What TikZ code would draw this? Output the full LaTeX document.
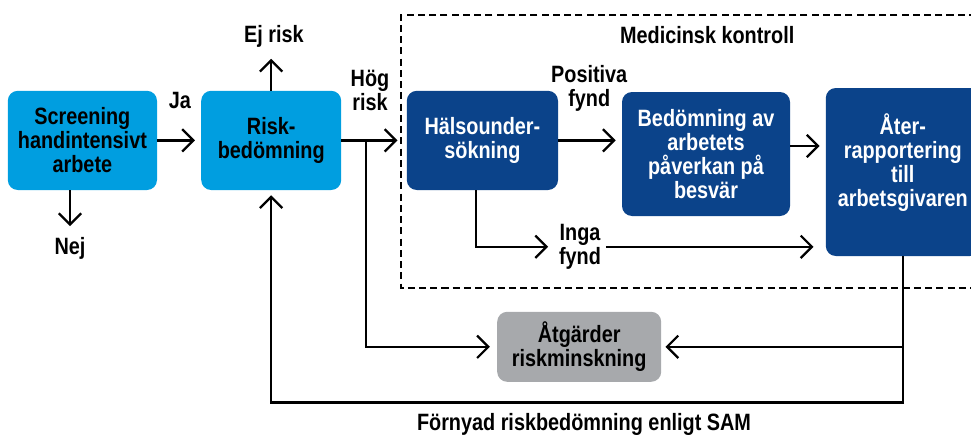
\documentclass[tikz,border=0pt]{standalone}
\usepackage{fontspec}
\setmainfont{Liberation Sans}[FakeStretch=0.84]
\usetikzlibrary{arrows.meta}
\definecolor{lightblue}{RGB}{0,158,224}
\definecolor{darkblue}{RGB}{11,67,138}
\definecolor{boxgray}{RGB}{167,169,172}
\tikzset{
  txt/.style={font=\bfseries\fontsize{16.8}{17}\selectfont, align=center},
  box/.style={txt, rounded corners=0.25cm, inner sep=2pt},
  lightbox/.style={box, fill=lightblue},
  darkbox/.style={box, fill=darkblue, text=white},
  graybox/.style={box, fill=boxgray},
  ln/.style={line width=1.6pt},
  arr/.style={ln, -{Straight Barb[length=2.8mm,width=5.6mm]}, shorten >=0.15cm},
}
\begin{document}
\begin{tikzpicture}
\useasboundingbox (0,0) rectangle (24.275,10.9);

\draw[ln, dash pattern=on 5pt off 3pt] (24.4,10.525) -- (10.025,10.525) -- (10.025,3.7) -- (24.4,3.7);

\node[lightbox, minimum width=3.73cm, minimum height=2.48cm] (screen) at (2.06,7.39) {Screening\\handintensivt\\arbete};
\node[lightbox, minimum width=3.5cm, minimum height=2.48cm] (risk) at (6.78,7.39) {Risk-\\bedömning};
\node[darkbox, minimum width=3.78cm, minimum height=2.48cm] (halso) at (12.06,7.39) {Hälsounder-\\sökning};
\node[darkbox, minimum width=4.2cm, minimum height=3.1cm] (bedom) at (17.65,7.05) {Bedömning av\\arbetets\\påverkan på\\besvär};
\node[darkbox, minimum width=3.85cm, minimum height=4.2cm, text depth=0.6cm] (ater) at (22.57,6.6) {Åter-\\rapportering\\till\\arbetsgivaren};
\node[graybox, minimum width=4.1cm, minimum height=1.75cm] (atgard) at (14.48,2.23) {Åtgärder\\riskminskning};

\node[txt] (ja) at (4.5,8.4) {Ja};
\node[txt] (ejrisk) at (6.85,9.98) {Ej risk};
\node[txt] (nej) at (1.75,4.7) {Nej};
\node[txt] (hog) at (9.25,8.65) {Hög\\risk};
\node[txt] (positiva) at (14.73,8.7) {Positiva\\fynd};
\node[txt] (inga) at (14.5,4.73) {Inga\\fynd};
\node[txt] (medkontroll) at (17.68,10.03) {Medicinsk kontroll};
\node[txt] (fornyad) at (14.6,0.28) {Förnyad riskbedömning enligt SAM};

\coordinate (hogsplit) at (9.15,7.39);
\coordinate (loopcorner) at (22.57,0.84);

\draw[arr] (screen) -- (risk);
\draw[arr] (risk.north) -- (risk.north |- ejrisk.south);
\draw[arr] (nej |- screen.south) -- (nej);
\draw[arr, shorten >=0.225cm] (risk) -- (halso);
\draw[arr, shorten >=0.175cm] (hogsplit) |- (atgard);
\draw[arr] (halso.east) -- (halso.east -| bedom.west);
\draw[arr] ([yshift=0.2cm]bedom.east) -- ([yshift=0.2cm]bedom.east -| ater.west);
\draw[arr] ([xshift=-0.16cm]halso.south) |- (inga);
\draw[arr, shorten >=0.3cm] (inga) -- (inga -| ater.west);
\draw[arr, shorten >=0.125cm] (ater.south) -- (loopcorner) -| (risk.south);
\draw[arr, shorten >=0.1cm] (ater.south |- atgard) -- (atgard);
\end{tikzpicture}
\end{document}
